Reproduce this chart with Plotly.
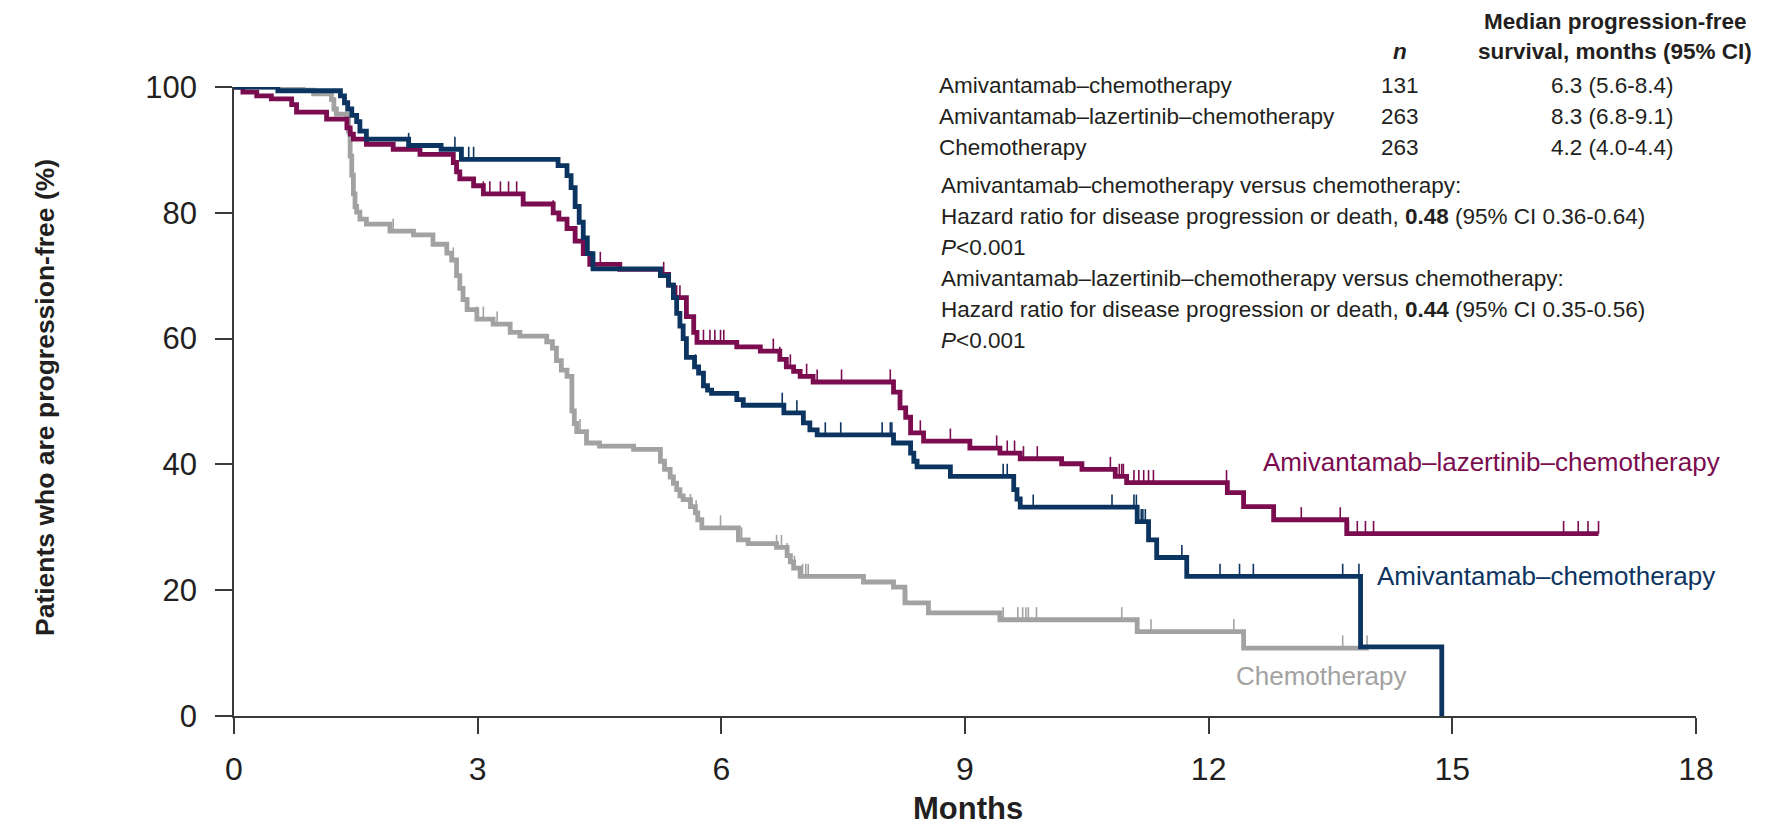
import plotly.graph_objects as go

# ---------------- data ----------------
months_ticks = [0, 3, 6, 9, 12, 15, 18]
pct_ticks = [0, 20, 40, 60, 80, 100]

series_names = ["Amivantamab–chemotherapy",
                "Amivantamab–lazertinib–chemotherapy",
                "Chemotherapy"]
series_n = [131, 263, 263]
series_median = ["6.3 (5.6-8.4)", "8.3 (6.8-9.1)", "4.2 (4.0-4.4)"]

blue_t = [0, 0.54, 1.31, 1.36, 1.40, 1.45, 1.51, 1.55, 1.63, 2.15,
          2.55, 2.80, 3.99, 4.10, 4.15, 4.20, 4.25, 4.30, 4.35, 4.42,
          5.25, 5.35, 5.41, 5.45, 5.49, 5.53, 5.57, 5.67, 5.72, 5.78,
          5.83, 5.88, 6.19, 6.27, 6.77, 7.01, 7.09, 7.18, 8.12, 8.33,
          8.37, 8.41, 8.82, 9.60, 9.64, 9.68, 11.12, 11.26, 11.36, 11.73,
          13.87, 14.87]
blue_s = [100, 99.4, 98.6, 97.5, 96.5, 95.5, 94.5, 93.0, 91.7, 90.7,
          90.1, 88.5, 87.5, 85.9, 84.0, 81.0, 78.5, 76.0, 73.5, 71.1,
          70.0, 68.5, 66.5, 64.0, 62.0, 60.0, 57.0, 55.5, 54.5, 52.5,
          51.8, 51.3, 50.3, 49.4, 48.2, 46.6, 45.5, 44.7, 43.4, 41.8,
          40.5, 39.6, 38.1, 36.0, 34.5, 33.2, 30.9, 28.0, 25.2, 22.2,
          11.0, 0]
blue_cens = [2.15, 2.72, 2.89, 2.95, 5.68, 6.75, 6.93, 7.28, 7.47, 7.98,
             8.08, 8.10, 9.47, 9.52, 9.84, 10.81, 11.08, 11.11, 11.17, 11.19,
             11.22, 11.67, 12.14, 12.38, 12.55, 13.65, 13.85]

red_t = [0, 0.11, 0.28, 0.46, 0.71, 0.77, 1.14, 1.39, 1.43, 1.47,
         1.63, 1.96, 2.29, 2.70, 2.74, 2.78, 2.95, 3.07, 3.56, 3.93,
         4.00, 4.10, 4.20, 4.30, 4.38, 4.75, 5.25, 5.35, 5.41, 5.57,
         5.66, 5.70, 6.19, 6.48, 6.72, 6.80, 6.89, 6.97, 7.13, 8.12,
         8.20, 8.27, 8.33, 8.49, 9.06, 9.43, 9.68, 10.19, 10.44, 10.85,
         10.99, 12.23, 12.43, 12.80, 13.70, 16.80]
red_s = [100, 99.2, 98.6, 98.1, 97.2, 96.0, 94.9, 93.5, 92.5, 91.7,
         90.9, 90.1, 89.3, 88.0, 86.5, 85.4, 84.3, 83.0, 81.4, 80.0,
         79.0, 77.5, 75.5, 73.5, 71.8, 71.0, 70.2, 68.5, 66.5, 63.5,
         61.0, 59.4, 58.7, 58.0, 56.7, 55.5, 54.8, 54.0, 53.1, 51.5,
         49.0, 47.5, 45.0, 43.7, 42.6, 41.8, 40.9, 40.1, 39.2, 38.1,
         37.1, 35.5, 33.3, 31.2, 29.0, 29.0]
red_cens = [0.03, 3.07, 3.15, 3.28, 3.38, 3.48, 3.93, 4.51, 5.29, 5.45,
            5.49, 5.78, 5.86, 5.92, 5.99, 6.03, 6.64, 6.72, 6.85, 7.05,
            7.18, 7.48, 8.08, 8.12, 8.45, 8.82, 9.39, 9.52, 9.61, 9.72,
            9.89, 10.79, 10.90, 10.93, 10.95, 11.08, 11.14, 11.20, 11.26, 11.32,
            12.22, 13.14, 13.62, 13.72, 13.83, 13.93, 14.03, 16.37, 16.55, 16.67,
            16.80]

gray_t = [0, 0.85, 0.98, 1.20, 1.23, 1.26, 1.39, 1.41, 1.43, 1.45,
          1.47, 1.49, 1.51, 1.55, 1.63, 1.92, 2.21, 2.45, 2.62, 2.68,
          2.74, 2.78, 2.82, 2.87, 2.99, 3.19, 3.40, 3.52, 3.85, 3.92,
          3.97, 4.03, 4.10, 4.16, 4.19, 4.22, 4.34, 4.50, 4.92, 5.25,
          5.30, 5.37, 5.41, 5.45, 5.49, 5.53, 5.62, 5.68, 5.71, 5.76,
          6.21, 6.33, 6.68, 6.81, 6.85, 6.89, 6.97, 7.75, 8.12, 8.26,
          8.55, 9.43, 11.12, 12.43, 13.97]
gray_s = [100, 99.5, 98.9, 98.0, 96.5, 95.7, 95.2, 93.0, 89.0, 86.0,
          83.0, 81.0, 80.1, 79.0, 78.2, 77.1, 76.5, 75.0, 73.6, 72.5,
          70.0, 68.0, 66.2, 64.6, 63.1, 62.3, 61.0, 60.4, 59.5, 58.5,
          56.5, 55.0, 54.0, 48.5, 46.5, 45.2, 43.4, 42.9, 42.4, 40.5,
          39.2, 38.0, 37.0, 36.0, 35.0, 34.4, 33.3, 32.3, 31.2, 29.9,
          28.0, 27.4, 26.8, 25.5, 24.5, 23.5, 22.2, 21.3, 20.5, 18.0,
          16.4, 15.3, 13.4, 10.8, 10.8]
gray_cens = [1.96, 2.70, 2.87, 2.99, 3.07, 3.24, 4.26, 5.62, 5.69, 5.99,
             6.25, 6.68, 6.74, 6.81, 6.90, 7.00, 7.04, 7.07, 8.28, 9.47,
             9.65, 9.71, 9.75, 9.78, 9.88, 10.93, 11.29, 12.31, 13.65, 13.95]

# ---------------- styles ----------------
C_BLUE = "#0c3461"
C_RED = "#7a0c4f"
C_GRAY = "#a2a2a2"
C_TEXT = "#231f20"
FONT = "Liberation Sans, Arial, Helvetica, sans-serif"
TICK_H = 2.0

OFF = 8                     # page body margin
W, H = 1765 - OFF, 830 - OFF
L, R, T, B = 226, 69, 79, 114


def step_value(ts, ss, t):
    v = ss[0]
    for ti, si in zip(ts, ss):
        if ti <= t:
            v = si
    return v


def cens_xy(ts, ss, cens):
    xs, ys = [], []
    for c in cens:
        v = step_value(ts, ss, c)
        xs += [c, c, None]
        ys += [v, v + TICK_H, None]
    return xs, ys


fig = go.Figure()
curves = [(gray_t, gray_s, gray_cens, C_GRAY),
          (red_t, red_s, red_cens, C_RED),
          (blue_t, blue_s, blue_cens, C_BLUE)]
for ts, ss, cens, col in curves:
    fig.add_trace(go.Scatter(x=ts, y=ss, mode="lines",
                             line=dict(shape="hv", color=col, width=4.8),
                             cliponaxis=False, hoverinfo="skip", showlegend=False))
    cx, cy = cens_xy(ts, ss, cens)
    fig.add_trace(go.Scatter(x=cx, y=cy, mode="lines",
                             line=dict(color=col, width=1.6),
                             cliponaxis=False, hoverinfo="skip", showlegend=False))


def px(xp):
    return (xp - OFF - L) / (W - L - R)


def py(yp):
    return (H - B - (yp - OFF)) / (H - T - B)


ann = []
# curve labels
LBL = 26
ann.append(dict(x=12.65, y=40.4, xref="x", yref="y", xanchor="left", yanchor="middle",
                text=series_names[1], showarrow=False,
                font=dict(family=FONT, size=LBL, color=C_RED)))
ann.append(dict(x=14.05, y=22.2, xref="x", yref="y", xanchor="left", yanchor="middle",
                text=series_names[0], showarrow=False,
                font=dict(family=FONT, size=LBL, color=C_BLUE)))
ann.append(dict(x=12.31, y=6.3, xref="x", yref="y", xanchor="left", yanchor="middle",
                text=series_names[2], showarrow=False,
                font=dict(family=FONT, size=LBL, color=C_GRAY)))

# table header
FS = 22.5
ann.append(dict(x=px(1615), y=py(21), xref="paper", yref="paper", xanchor="center",
                yanchor="middle", text="<b>Median progression-free</b>", showarrow=False,
                font=dict(family=FONT, size=FS, color=C_TEXT)))
ann.append(dict(x=px(1615), y=py(51), xref="paper", yref="paper", xanchor="center",
                yanchor="middle", text="<b>survival, months (95% CI)</b>", showarrow=False,
                font=dict(family=FONT, size=FS, color=C_TEXT)))
ann.append(dict(x=px(1400), y=py(51), xref="paper", yref="paper", xanchor="center",
                yanchor="middle", text="<b><i>n</i></b>", showarrow=False,
                font=dict(family=FONT, size=FS, color=C_TEXT)))
row_y = [85, 116, 147]
for name, n, med, yy in zip(series_names, series_n, series_median, row_y):
    ann.append(dict(x=px(937), y=py(yy), xref="paper", yref="paper", xanchor="left",
                    yanchor="middle", text=name, showarrow=False,
                    font=dict(family=FONT, size=FS, color=C_TEXT)))
    ann.append(dict(x=px(1400), y=py(yy), xref="paper", yref="paper", xanchor="center",
                    yanchor="middle", text=str(n), showarrow=False,
                    font=dict(family=FONT, size=FS, color=C_TEXT)))
    ann.append(dict(x=px(1612), y=py(yy), xref="paper", yref="paper", xanchor="center",
                    yanchor="middle", text=med, showarrow=False,
                    font=dict(family=FONT, size=FS, color=C_TEXT)))

hr_lines = [
    "Amivantamab–chemotherapy versus chemotherapy:",
    "Hazard ratio for disease progression or death, <b>0.48</b> (95% CI 0.36-0.64)",
    "<i>P</i>&lt;0.001",
    "Amivantamab–lazertinib–chemotherapy versus chemotherapy:",
    "Hazard ratio for disease progression or death, <b>0.44</b> (95% CI 0.35-0.56)",
    "<i>P</i>&lt;0.001",
]
hr_y = [185, 216, 247, 278, 309, 340]
for t, yy in zip(hr_lines, hr_y):
    ann.append(dict(x=px(939), y=py(yy), xref="paper", yref="paper", xanchor="left",
                    yanchor="middle", text=t, showarrow=False,
                    font=dict(family=FONT, size=FS, color=C_TEXT)))

# axis titles
ann.append(dict(x=px(968), y=py(808), xref="paper", yref="paper", xanchor="center",
                yanchor="middle", text="<b>Months</b>", showarrow=False,
                font=dict(family=FONT, size=31, color=C_TEXT)))
ann.append(dict(x=px(45), y=py(398), xref="paper", yref="paper", xanchor="center",
                yanchor="middle", text="<b>Patients who are progression-free (%)</b>",
                textangle=-90, showarrow=False,
                font=dict(family=FONT, size=26.5, color=C_TEXT)))

fig.update_layout(
    width=W, height=H,
    margin=dict(l=L, r=R, t=T, b=B),
    paper_bgcolor="white", plot_bgcolor="white",
    annotations=ann,
    xaxis=dict(range=[0, 18], tickvals=months_ticks, ticktext=[str(v) for v in months_ticks],
               showline=True, linecolor="#3a3a3a", linewidth=1.5,
               ticks="outside", ticklen=16, tickwidth=1.5, tickcolor="#3a3a3a",
               showgrid=False, zeroline=False, ticklabelstandoff=8,
               tickfont=dict(family=FONT, size=32, color=C_TEXT)),
    yaxis=dict(range=[0, 100], tickvals=pct_ticks, ticktext=[str(v) for v in pct_ticks],
               showline=True, linecolor="#3a3a3a", linewidth=1.5,
               ticks="outside", ticklen=17, tickwidth=1.5, tickcolor="#3a3a3a",
               showgrid=False, zeroline=False, ticklabelstandoff=12,
               tickfont=dict(family=FONT, size=31, color=C_TEXT)),
)

fig.write_html("out.html")
